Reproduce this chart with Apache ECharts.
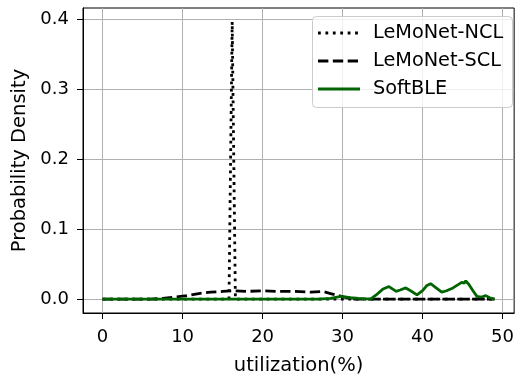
<!DOCTYPE html>
<html>
<head>
<meta charset="utf-8">
<script src="https://cdn.jsdelivr.net/npm/echarts@6/dist/echarts.min.js"></script>
<style>
  html, body { margin: 0; padding: 0; background: #fff; }
  #chart { width: 517px; height: 381px; }
</style>
</head>
<body>
<div id="chart"></div>
<script>
// Probability density of utilization (%) for three schemes, as [utilization, density] points
const nclPoints = [
  [0, 0], [15.8, 0], [16.2, 0.396], [16.6, 0], [49, 0]
];
const sclPoints = [
  [0, 0], [6, 0], [7.5, 0.001], [9, 0.003], [10.5, 0.005], [12, 0.008],
  [13.5, 0.010], [15, 0.011], [16.5, 0.012], [18, 0.011], [20, 0.012],
  [22, 0.011], [24, 0.011], [26, 0.010], [27.5, 0.011], [28.5, 0.008],
  [29.5, 0.005], [30.5, 0.002], [31.5, 0], [49, 0]
];
const softblePoints = [
  [0, 0], [27, 0], [28.5, 0.001], [29.8, 0.004], [31, 0.002], [32, 0.001],
  [33.5, 0], [34.2, 0.006], [35, 0.014], [35.8, 0.018], [36.7, 0.011],
  [37.2, 0.013], [37.9, 0.016], [38.5, 0.012], [39.3, 0.006], [40, 0.012],
  [40.5, 0.019], [41, 0.022], [41.7, 0.016], [42.4, 0.010], [43, 0.012],
  [43.8, 0.016], [44.5, 0.021], [44.9, 0.024], [45.2, 0.023], [45.4, 0.026],
  [45.8, 0.021], [46.3, 0.012], [46.8, 0.004], [47.4, 0.003], [47.9, 0.005],
  [48.4, 0.002], [49, 0]
];
const seriesNames = ['LeMoNet-NCL', 'LeMoNet-SCL', 'SoftBLE'];
const xTicks = [0, 10, 20, 30, 40, 50];
const yTicks = [0, 0.1, 0.2, 0.3, 0.4];

const FONT = 'DejaVu Sans';
const LW = 2.8;
const styles = [
  { color: '#000000', dash: [LW, LW * 1.65] },
  { color: '#000000', dash: [LW * 3.7, LW * 1.6] },
  { color: '#006400', dash: null }
];

// Legend box drawn as graphics so the sample lines keep their dash patterns
const legendBox = { x: 312, y: 16, w: 200, h: 91, rowY: [33, 61, 89], lineX: [318, 360], textX: 373 };
const legendGraphics = [{
  type: 'rect',
  shape: { x: legendBox.x + 0.5, y: legendBox.y + 0.5, width: legendBox.w, height: legendBox.h, r: 4 },
  style: { fill: 'rgba(255,255,255,0.8)', stroke: '#cccccc', lineWidth: 1 },
  z: 100
}];
seriesNames.forEach((name, i) => {
  legendGraphics.push({
    type: 'line',
    shape: { x1: legendBox.lineX[0], y1: legendBox.rowY[i], x2: legendBox.lineX[1], y2: legendBox.rowY[i] },
    style: { stroke: styles[i].color, lineWidth: LW, lineDash: styles[i].dash, lineCap: 'butt' },
    z: 101
  });
  legendGraphics.push({
    type: 'text',
    x: legendBox.textX,
    y: legendBox.rowY[i],
    style: { text: name, fill: '#000', font: '19.3px "DejaVu Sans"', verticalAlign: 'middle', align: 'left' },
    z: 101
  });
});

const chart = echarts.init(document.getElementById('chart'), null, { renderer: 'canvas' });

chart.setOption({
  animation: false,
  backgroundColor: '#ffffff',
  grid: { left: 83, right: 1, top: 8, bottom: 65, containLabel: false, show: true, borderColor: '#000', borderWidth: 1 },
  xAxis: {
    type: 'value',
    min: -2.45,
    max: 51.45,
    name: 'utilization(%)',
    nameLocation: 'middle',
    nameGap: 43,
    nameTextStyle: { fontFamily: FONT, fontSize: 19.5, color: '#000' },
    axisLine: { show: true, onZero: false, lineStyle: { color: '#000', width: 1 } },
    axisTick: { show: true, length: 6, customValues: xTicks, lineStyle: { color: '#000', width: 1 } },
    axisLabel: { customValues: xTicks, margin: 15, fontFamily: FONT, fontSize: 18, color: '#000' },
    splitLine: { show: true, lineStyle: { color: '#b0b0b0', width: 1 } }
  },
  yAxis: {
    type: 'value',
    min: -0.0198,
    max: 0.4158,
    name: 'Probability Density',
    nameLocation: 'middle',
    nameGap: 52,
    nameRotate: 90,
    nameTextStyle: { fontFamily: FONT, fontSize: 19.5, color: '#000' },
    axisLine: { show: true, onZero: false, lineStyle: { color: '#000', width: 1 } },
    axisTick: { show: true, length: 6, customValues: yTicks, lineStyle: { color: '#000', width: 1 } },
    axisLabel: {
      customValues: yTicks, margin: 14, fontFamily: FONT, fontSize: 18, color: '#000',
      formatter: v => v.toFixed(1)
    },
    splitLine: { show: true, lineStyle: { color: '#b0b0b0', width: 1 } }
  },
  graphic: legendGraphics,
  series: [
    {
      name: seriesNames[0],
      type: 'line',
      data: nclPoints,
      symbol: 'none',
      z: 2,
      lineStyle: { color: styles[0].color, width: LW, type: styles[0].dash, cap: 'butt' }
    },
    {
      name: seriesNames[1],
      type: 'line',
      data: sclPoints,
      symbol: 'none',
      z: 3,
      lineStyle: { color: styles[1].color, width: LW, type: styles[1].dash, cap: 'butt' }
    },
    {
      name: seriesNames[2],
      type: 'line',
      data: softblePoints,
      symbol: 'none',
      z: 4,
      lineStyle: { color: styles[2].color, width: LW }
    }
  ]
});
</script>
</body>
</html>
